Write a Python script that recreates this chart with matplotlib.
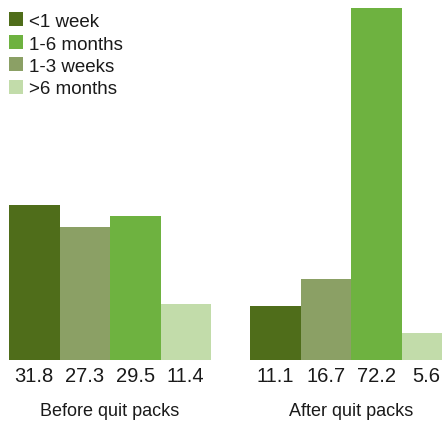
import matplotlib
matplotlib.use('Agg')
import matplotlib.pyplot as plt
from matplotlib.patches import Rectangle

plt.rcParams['font.family'] = ['Liberation Sans', 'DejaVu Sans']

groups = ['Before quit packs', 'After quit packs']
categories = ['<1 week', '1-3 weeks', '1-6 months', '>6 months']
before = [31.8, 27.3, 29.5, 11.4]
after = [11.1, 16.7, 72.2, 5.6]
values = [before, after]
colors = ['#4f6d1a', '#8ba065', '#6eb240', '#c2dcaa']
legend_order = ['<1 week', '1-6 months', '1-3 weeks', '>6 months']

W, H = 442, 422
fig = plt.figure(figsize=(W / 100, H / 100), dpi=100)
bw = 50.5  # bar width in px
ax = fig.add_axes([9 / W, 62 / H, (W - 9) / W, 353 / H])
ax.set_xlim(0, (W - 9) / bw)
ax.set_ylim(0, 72.5)
ax.axis('off')

group_starts = [0, (250 - 9) / bw]
for g, (start, vals) in enumerate(zip(group_starts, values)):
    for i, v in enumerate(vals):
        x = start + i
        ax.bar(x, v, width=1.0, align='edge', color=colors[i], linewidth=0, clip_on=False)
        ax.annotate(f'{v:.1f}', xy=(x + 0.5, 0), xytext=(0, -17 * 0.72),
                    textcoords='offset points', ha='center', va='center',
                    fontsize=14.5, color='#1a1a1a', annotation_clip=False)
    ax.annotate(groups[g], xy=(start + 2, 0), xytext=(0, -52 * 0.72),
                textcoords='offset points', ha='center', va='center',
                fontsize=13, color='#1a1a1a', annotation_clip=False)

# legend
centers = [19, 41.5, 64, 86.5]
sq = 14
for lab, cy in zip(legend_order, centers):
    c = colors[categories.index(lab)]
    fig.patches.append(Rectangle((9 / W, 1 - (cy + sq / 2) / H), sq / W, sq / H,
                                 transform=fig.transFigure, color=c, linewidth=0))
    fig.text(29 / W, 1 - (cy + sq / 2 + 1) / H, lab, fontsize=13.5, color='#1a1a1a',
             ha='left', va='baseline')

fig.savefig('out.png', dpi=100)
